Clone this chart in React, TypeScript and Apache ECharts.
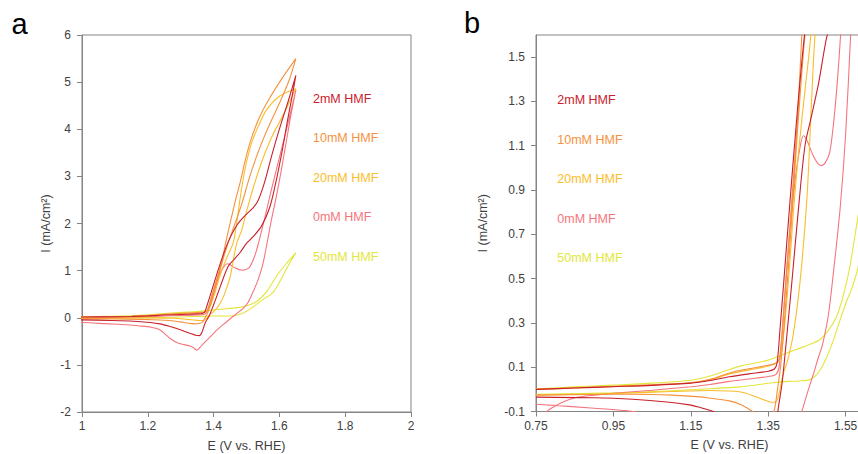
import React, { useEffect, useRef } from "react";
import * as echarts from "echarts";

// ---- legend / series identity ----
const seriesNames = ["2mM HMF", "10mM HMF", "20mM HMF", "0mM HMF", "50mM HMF"];
const seriesColors = ["#c9202c", "#f5913e", "#fbbd2a", "#f5757d", "#e2e63a"];

// ---- CV data: [E (V vs RHE), I (mA/cm2)] forward then reverse sweep ----
const fwd2mM = [
  [0.75, 0.0], [0.85, 0.006], [0.95, 0.012], [1.05, 0.018], [1.15, 0.028], [1.2, 0.04],
  [1.25, 0.057], [1.3, 0.07], [1.35, 0.082], [1.366, 0.092], [1.373, 0.12], [1.38, 0.26],
  [1.39, 0.48], [1.405, 0.82], [1.425, 1.25], [1.445, 1.62], [1.465, 1.9], [1.48, 2.05],
  [1.5, 2.2], [1.52, 2.33], [1.536, 2.5], [1.556, 2.9], [1.577, 3.45], [1.602, 4.05],
  [1.627, 4.6], [1.65, 5.14],
];
const rev2mM = [
  [1.65, 5.14], [1.64, 4.75], [1.625, 4.2], [1.61, 3.6], [1.59, 2.9], [1.571, 2.35],
  [1.546, 1.95], [1.52, 1.72], [1.5, 1.58], [1.48, 1.38], [1.46, 1.22], [1.445, 1.1],
  [1.43, 0.85], [1.413, 0.52], [1.398, 0.24], [1.386, 0.03], [1.375, -0.1], [1.365, -0.3],
  [1.357, -0.38], [1.345, -0.37], [1.328, -0.33], [1.31, -0.285], [1.288, -0.23],
  [1.265, -0.18], [1.237, -0.13], [1.208, -0.1], [1.17, -0.08], [1.146, -0.07],
  [1.088, -0.057], [1.0, -0.045], [0.9, -0.038], [0.75, -0.035],
];
const fwd10mM = [
  [0.75, 0.0], [0.85, 0.007], [0.95, 0.014], [1.05, 0.021], [1.15, 0.03], [1.2, 0.045],
  [1.25, 0.074], [1.3, 0.093], [1.35, 0.109], [1.372, 0.12], [1.38, 0.15], [1.39, 0.35],
  [1.404, 0.69], [1.425, 1.2], [1.437, 1.6], [1.45, 2.0], [1.465, 2.45], [1.48, 2.85],
  [1.495, 3.3], [1.51, 3.7], [1.536, 4.2], [1.566, 4.61], [1.607, 5.07], [1.65, 5.5],
];
const rev10mM = [
  [1.65, 5.5], [1.63, 5.05], [1.6, 4.55], [1.57, 4.1], [1.54, 3.6], [1.51, 3.0],
  [1.485, 2.4], [1.46, 1.9], [1.44, 1.5], [1.425, 1.15], [1.41, 0.75], [1.395, 0.38],
  [1.383, 0.12], [1.374, 0.0], [1.365, -0.1], [1.355, -0.122], [1.342, -0.13],
  [1.325, -0.118], [1.307, -0.097], [1.28, -0.07], [1.25, -0.052], [1.2, -0.04],
  [1.174, -0.034], [1.1, -0.026], [1.0, -0.022], [0.9, -0.023], [0.75, -0.026],
];
const fwd20mM = [
  [0.75, 0.0], [0.85, 0.006], [0.95, 0.013], [1.05, 0.02], [1.15, 0.03], [1.2, 0.043],
  [1.25, 0.07], [1.3, 0.088], [1.35, 0.105], [1.378, 0.13], [1.39, 0.25], [1.405, 0.55],
  [1.415, 0.8], [1.43, 1.1], [1.445, 1.35], [1.46, 1.6], [1.47, 2.0], [1.48, 2.5],
  [1.49, 2.95], [1.5, 3.3], [1.515, 3.7], [1.535, 4.05], [1.56, 4.4], [1.6, 4.7], [1.65, 4.86],
];
const rev20mM = [
  [1.65, 4.86], [1.635, 4.65], [1.622, 4.45], [1.6, 4.15], [1.581, 3.9], [1.551, 3.4],
  [1.521, 2.77], [1.5, 2.25], [1.485, 1.85], [1.471, 1.6], [1.462, 1.3], [1.45, 0.86],
  [1.432, 0.48], [1.415, 0.25], [1.4, 0.13], [1.389, 0.07], [1.376, -0.034],
  [1.368, -0.058], [1.355, -0.057], [1.34, -0.048], [1.32, -0.035], [1.28, -0.012],
  [1.2, -0.005], [1.1, -0.01], [0.95, -0.019], [0.75, -0.026],
];
const fwd0mM = [
  [0.75, -0.22], [0.765, -0.14], [0.778, -0.1], [0.8, -0.075], [0.82, -0.057],
  [0.856, -0.036], [0.9, -0.026], [0.95, -0.018], [1.05, -0.004], [1.15, 0.012],
  [1.2, 0.022], [1.25, 0.036], [1.3, 0.047], [1.35, 0.058], [1.37, 0.068], [1.378, 0.1],
  [1.386, 0.25], [1.396, 0.5], [1.408, 0.75], [1.42, 0.95], [1.432, 1.09], [1.441, 1.145],
  [1.45, 1.125], [1.465, 1.06], [1.478, 1.02], [1.488, 1.01], [1.498, 1.025], [1.509, 1.07],
  [1.52, 1.22], [1.53, 1.42], [1.537, 1.6], [1.555, 2.1], [1.575, 2.7], [1.6, 3.4],
  [1.625, 4.1], [1.65, 4.83],
];
const rev0mM = [
  [1.65, 4.83], [1.635, 4.3], [1.62, 3.7], [1.605, 3.1], [1.59, 2.55], [1.575, 2.05],
  [1.563, 1.6], [1.55, 1.15], [1.536, 0.82], [1.52, 0.55], [1.505, 0.33], [1.49, 0.2],
  [1.48, 0.146], [1.467, 0.07], [1.454, 0.0], [1.437, -0.1], [1.42, -0.2], [1.409, -0.27],
  [1.395, -0.37], [1.379, -0.48], [1.362, -0.6], [1.349, -0.69], [1.34, -0.64],
  [1.328, -0.6], [1.31, -0.57], [1.29, -0.53], [1.27, -0.45], [1.25, -0.33],
  [1.235, -0.25], [1.21, -0.2], [1.17, -0.17], [1.146, -0.155], [1.07, -0.125],
  [1.0, -0.1], [0.9, -0.085], [0.75, -0.067],
];
const fwd50mM = [
  [0.75, 0.003], [0.85, 0.011], [0.95, 0.019], [1.05, 0.028], [1.15, 0.041], [1.2, 0.06],
  [1.25, 0.09], [1.28, 0.106], [1.32, 0.12], [1.35, 0.132], [1.38, 0.152], [1.43, 0.185],
  [1.46, 0.205], [1.484, 0.225], [1.505, 0.265], [1.527, 0.33], [1.545, 0.43],
  [1.561, 0.553], [1.582, 0.78], [1.6, 0.97], [1.625, 1.18], [1.65, 1.38],
];
const rev50mM = [
  [1.65, 1.38], [1.625, 1.08], [1.6, 0.75], [1.582, 0.55], [1.565, 0.45], [1.553, 0.4],
  [1.535, 0.31], [1.518, 0.22], [1.5, 0.14], [1.484, 0.086], [1.47, 0.058], [1.458, 0.044],
  [1.43, 0.038], [1.4, 0.036], [1.36, 0.03], [1.32, 0.02], [1.277, 0.011], [1.2, 0.003],
  [1.1, -0.006], [0.95, -0.016], [0.75, -0.022],
];

const curveData = [
  [...fwd2mM, ...rev2mM],
  [...fwd10mM, ...rev10mM],
  [...fwd20mM, ...rev20mM],
  [...fwd0mM, ...rev0mM],
  [...fwd50mM, ...rev50mM],
];

// draw order: 50mM at the back, 2mM on top
const drawOrder = [4, 3, 2, 1, 0];

const FONT = '"Liberation Sans", Arial, sans-serif';
const AXIS_COLOR = "#858585";
const TEXT_COLOR = "#404040";

function axisCommon() {
  return {
    type: "value" as const,
    nameLocation: "middle" as const,
    nameTextStyle: { color: TEXT_COLOR, fontSize: 12.5, fontFamily: FONT },
    axisLine: { show: true, onZero: false, lineStyle: { color: AXIS_COLOR, width: 1 } },
    axisTick: { show: true, inside: false, length: 5, lineStyle: { color: AXIS_COLOR } },
    splitLine: { show: false },
  };
}

function legendFor(left: number, top: number, gap: number) {
  return {
    orient: "vertical" as const,
    left,
    top,
    padding: 0,
    icon: "rect",
    itemWidth: 1,
    itemHeight: 14,
    itemGap: gap,
    selectedMode: false,
    itemStyle: { opacity: 0 },
    textStyle: { fontSize: 12.5, lineHeight: 14, fontFamily: FONT },
    data: seriesNames.map((n, i) => ({ name: n, textStyle: { color: seriesColors[i] } })),
  };
}

export default function App() {
  const ref = useRef<HTMLDivElement>(null);
  useEffect(() => {
    if (!ref.current) return;
    const chart = echarts.init(ref.current, null, { renderer: "svg" });
    const series: any[] = [];
    [0, 1].forEach((p) => {
      drawOrder.forEach((i) => {
        series.push({
          type: "line",
          name: seriesNames[i],
          xAxisIndex: p,
          yAxisIndex: p,
          data: curveData[i],
          showSymbol: false,
          symbol: "none",
          smooth: 0.3,
          clip: true,
          silent: true,
          lineStyle: { color: seriesColors[i], width: 1.1 },
          itemStyle: { color: seriesColors[i] },
        });
      });
    });
    chart.setOption({
      animation: false,
      backgroundColor: "#ffffff",
      textStyle: { fontFamily: FONT },
      grid: [
        { left: 82, top: 35, width: 329, height: 377, show: true, borderColor: AXIS_COLOR, borderWidth: 1, outerBoundsMode: "none", containLabel: false },
        { left: 536, top: 35, width: 387, height: 376.5, show: true, borderColor: AXIS_COLOR, borderWidth: 1, outerBoundsMode: "none", containLabel: false },
      ],
      xAxis: [
        {
          ...axisCommon(),
          gridIndex: 0,
          min: 1,
          max: 2,
          interval: 0.2,
          name: "E (V vs. RHE)",
          nameGap: 27,
          axisLabel: { color: TEXT_COLOR, fontSize: 12, margin: 8, fontFamily: FONT },
        },
        {
          ...axisCommon(),
          gridIndex: 1,
          min: 0.75,
          max: 1.75,
          interval: 0.2,
          name: "E (V vs. RHE)",
          nameGap: 27,
          axisLabel: { color: TEXT_COLOR, fontSize: 12, margin: 8, fontFamily: FONT, showMaxLabel: false },
        },
      ],
      yAxis: [
        {
          ...axisCommon(),
          gridIndex: 0,
          min: -2,
          max: 6,
          interval: 1,
          name: "I (mA/cm²)",
          nameGap: 30,
          axisLabel: { color: TEXT_COLOR, fontSize: 12, margin: 11, fontFamily: FONT },
        },
        {
          ...axisCommon(),
          gridIndex: 1,
          min: -0.1,
          max: 1.6,
          interval: 0.2,
          name: "I (mA/cm²)",
          nameGap: 47,
          axisLabel: { color: TEXT_COLOR, fontSize: 12, margin: 11, fontFamily: FONT, showMaxLabel: false },
        },
      ],
      legend: [legendFor(307, 91.5, 25.6), legendFor(551.3, 93, 25.5)],
      graphic: [
        { type: "text", x: 11.5, y: 24, style: { text: "a", font: `29px ${FONT}`, fill: "#000", verticalAlign: "middle" } },
        { type: "text", x: 464, y: 23, style: { text: "b", font: `29px ${FONT}`, fill: "#000", verticalAlign: "middle" } },
      ],
      series,
    });
    return () => chart.dispose();
  }, []);
  return <div ref={ref} style={{ position: "fixed", left: 0, top: 0, width: 940, height: 454 }} />;
}
